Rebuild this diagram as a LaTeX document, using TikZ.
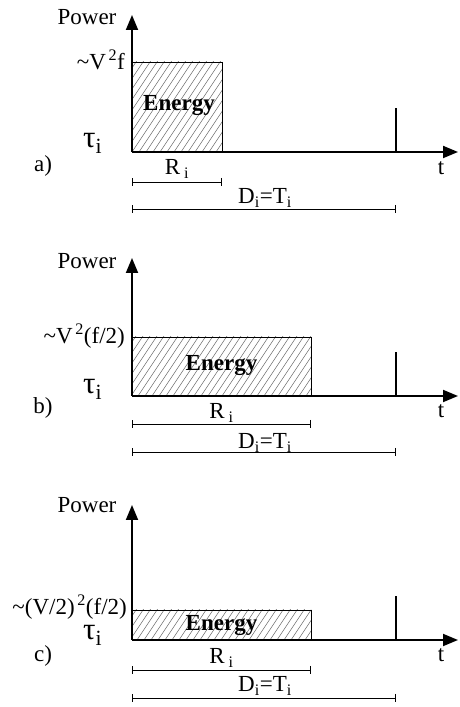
\documentclass[tikz,border=0pt]{standalone}
\usepackage{fontspec}
\setmainfont{Liberation Serif}
\usetikzlibrary{arrows.meta}

\begin{document}
\begin{tikzpicture}[x=1pt,y=1pt,>={Triangle[length=15pt,width=12pt]},
  axis/.style={line width=1.9pt,->},
  lbl/.style={inner sep=0pt,font=\fontsize{23}{26}\selectfont},
  tau/.style={inner sep=0pt,anchor=base west,font=\fontsize{31}{33}\selectfont},
  span/.style={line width=.9pt,{Bar[width=8pt]}-{Bar[width=8pt]}},
  hatch/.style={line width=.5pt,gray!80!black}]
\useasboundingbox (0,0) rectangle (459,707);
% a) full speed
\begin{scope}[shift={(132,555)}]
\coordinate (oa) at (0,0);
\begin{scope}
\clip (0,0) rectangle (90,90);
\foreach \k in {-70,-63,...,95} \draw[hatch] (\k,0) -- ++(80,120);
\end{scope}
\draw[line width=.8pt] (0,0) rectangle (90,90);
\node[lbl,font=\fontsize{23}{26}\selectfont\bfseries] (ea) at (47,46) {Energy};
\draw[axis] (oa) -- (0,137);
\draw[axis] (oa) -- (326,0);
\draw[line width=1.9pt] (264,0) -- (264,44);
\node[lbl] (pa) at (-45,135) {Power};
\node[lbl,anchor=east] (la) at (-7,92) {\textasciitilde V\textsuperscript{\,2}f};
\node[tau] (ta) at (-49,4) {τ\textsubscript{i}};
\node[lbl] (na) at (-89,-14) {a)};
\node[lbl] (xa) at (309,-16) {t};
\node[lbl] (ra) at (45,-17) {R\,\textsubscript{i}};
\node[lbl] (da) at (133,-46) {D\textsubscript{i}=T\textsubscript{i}};
\coordinate (ra0) at (0,-30); \coordinate (ra1) at (90,-30);
\coordinate (da0) at (0,-57); \coordinate (da1) at (264,-57);
\draw[span] (ra0) -- (ra1);
\draw[span] (da0) -- (da1);
\end{scope}
% b) half frequency
\begin{scope}[shift={(132,311)}]
\coordinate (ob) at (0,0);
\begin{scope}
\clip (0,0) rectangle (179,59);
\foreach \k in {-50,-43,...,185} \draw[hatch] (\k,0) -- ++(80,120);
\end{scope}
\draw[line width=.8pt] (0,0) rectangle (179,59);
\node[lbl,font=\fontsize{23}{26}\selectfont\bfseries] (eb) at (89.5,30) {Energy};
\draw[axis] (ob) -- (0,138);
\draw[axis] (ob) -- (326,0);
\draw[line width=1.9pt] (264,0) -- (264,44);
\node[lbl] (pb) at (-45,135) {Power};
\node[lbl,anchor=east] (lb) at (-7,60) {\textasciitilde V\textsuperscript{\,2}(f/2)};
\node[tau] (tb) at (-49,2) {τ\textsubscript{i}};
\node[lbl] (nb) at (-89,-12) {b)};
\node[lbl] (xb) at (309,-15) {t};
\node[lbl] (rb) at (89.5,-17) {R\,\textsubscript{i}};
\node[lbl] (db) at (133,-47) {D\textsubscript{i}=T\textsubscript{i}};
\coordinate (rb0) at (0,-28); \coordinate (rb1) at (179,-28);
\coordinate (db0) at (0,-56); \coordinate (db1) at (264,-56);
\draw[span] (rb0) -- (rb1);
\draw[span] (db0) -- (db1);
\end{scope}
% c) half voltage, half frequency
\begin{scope}[shift={(132,67)}]
\coordinate (oc) at (0,0);
\begin{scope}
\clip (0,0) rectangle (179,30);
\foreach \k in {-30,-23,...,185} \draw[hatch] (\k,0) -- ++(80,120);
\end{scope}
\draw[line width=.8pt] (0,0) rectangle (179,30);
\node[lbl,font=\fontsize{23}{26}\selectfont\bfseries] (ec) at (89.5,14) {Energy};
\draw[axis] (oc) -- (0,135);
\draw[axis] (oc) -- (326,0);
\draw[line width=1.9pt] (264,0) -- (264,44);
\node[lbl] (pc) at (-45,135) {Power};
\node[lbl,anchor=east] (lc) at (-5,33) {\textasciitilde(V/2)\textsuperscript{\,2}(f/2)};
\node[tau] (tc) at (-49,0) {τ\textsubscript{i}};
\node[lbl] (nc) at (-89,-16) {c)};
\node[lbl] (xc) at (309,-15) {t};
\node[lbl] (rc) at (89.5,-18) {R\,\textsubscript{i}};
\node[lbl] (dc) at (133,-46) {D\textsubscript{i}=T\textsubscript{i}};
\coordinate (rc0) at (0,-30); \coordinate (rc1) at (179,-30);
\coordinate (dc0) at (0,-58); \coordinate (dc1) at (264,-58);
\draw[span] (rc0) -- (rc1);
\draw[span] (dc0) -- (dc1);
\end{scope}
\end{tikzpicture}
\end{document}
